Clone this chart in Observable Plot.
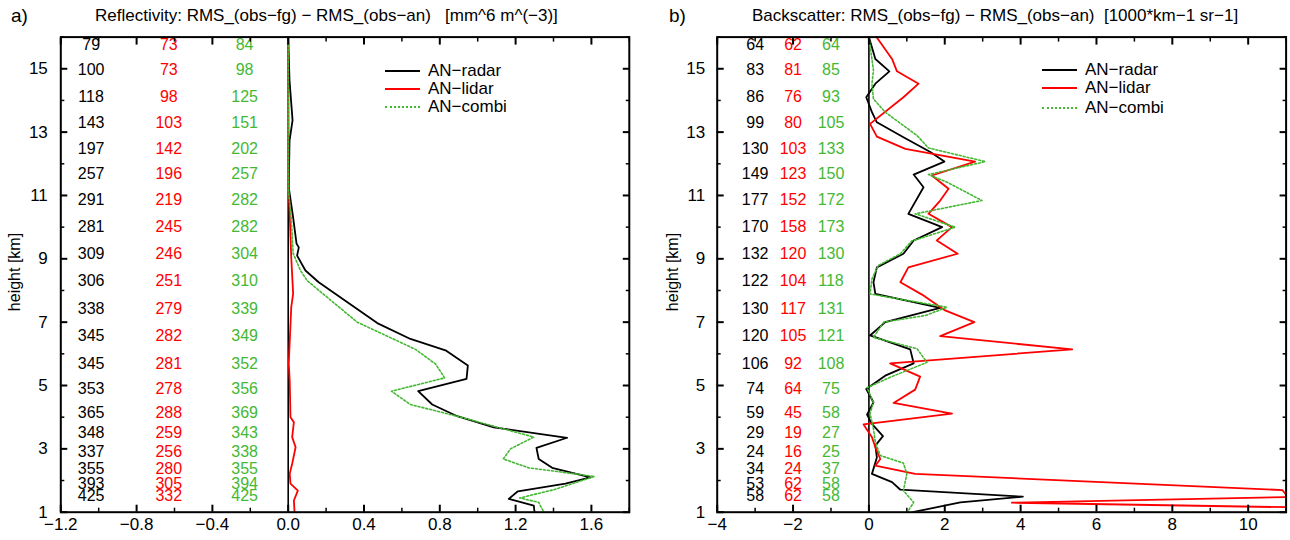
<!DOCTYPE html>
<html><head><meta charset="utf-8">
<script src="https://cdn.jsdelivr.net/npm/d3@7"></script>
<script src="https://cdn.jsdelivr.net/npm/@observablehq/plot@0.6"></script>
<style>
body{margin:0;background:#fff;}
#wrap{position:relative;width:1290px;height:540px;font-family:"Liberation Sans Narrow","Liberation Sans",Arial,sans-serif;color:#000;}
.panel{position:absolute;top:0;}
.t{position:absolute;white-space:pre;font-size:17px;line-height:1;}
.ylab{position:absolute;white-space:pre;font-size:16px;line-height:1;transform:translate(-50%,-50%) rotate(-90deg);}
.leg{position:absolute;width:35px;height:0;}
</style>
</head><body>
<div id="wrap"></div>
<script>
// ---------- data ----------
const rowHeights = [15.77,14.95,14.12,13.30,12.48,11.69,10.87,10.02,9.17,8.29,7.41,6.58,5.69,4.90,4.14,3.50,2.90,2.36,1.90,1.52];

const reflCountRadar = [79,100,118,143,197,257,291,281,309,306,338,345,345,353,365,348,337,355,393,425];
const reflCountLidar = [73,73,98,103,142,196,219,245,246,251,279,282,281,278,288,259,256,280,305,332];
const reflCountCombi = [84,98,125,151,202,257,282,282,304,310,339,349,352,356,369,343,338,355,394,425];

const bscCountRadar = [64,83,86,99,130,149,177,170,132,122,130,120,106,74,59,29,24,34,53,58];
const bscCountLidar = [62,81,76,80,103,123,152,158,120,104,117,105,92,64,45,19,16,24,62,62];
const bscCountCombi = [64,85,93,105,133,150,172,173,130,118,131,121,108,75,58,27,25,37,58,58];

// Reflectivity profiles (height km, value)
const reflRadarH = [16,14.63,13.37,12.73,11.25,10.31,9.48,9.36,9.10,8.63,8.26,6.97,6.47,6.10,5.63,5.21,4.82,4.40,4.03,3.68,3.35,3.03,2.68,2.40,2.10,1.90,1.66,1.42,1.21,1.0];
const reflRadarV = [0,0.007,0.023,0.007,0.003,0.026,0.044,0.056,0.047,0.091,0.161,0.470,0.645,0.834,0.948,0.941,0.686,0.760,0.892,1.085,1.472,1.310,1.322,1.393,1.595,1.463,1.212,1.164,1.296,1.30];
const reflLidarH = [16,11.25,9.05,7.9,7.47,5.69,5.15,4.0,3.84,3.37,3.05,2.53,2.21,1.9,1.68,1.37,1.05,1.0];
const reflLidarV = [0,0.003,0.016,0.026,0.016,0.003,0.008,0.012,0.030,0.021,0.039,0.021,0.008,0.012,0.051,0.030,0.033,0.033];
const reflCombiH = [16,11.2,10.31,9.17,8.63,8.31,7.0,6.14,5.68,5.24,4.82,4.40,4.03,3.37,3.0,2.68,2.40,2.13,1.71,1.45,1.31,1.0];
const reflCombiV = [0,0.0,0.016,0.026,0.065,0.100,0.364,0.672,0.777,0.826,0.545,0.645,0.892,1.296,1.173,1.135,1.270,1.616,1.402,1.222,1.322,1.349];

// Backscatter profiles
const bscRadarH = [16.0,15.31,14.92,14.53,14.10,13.63,13.31,12.84,12.37,12.07,11.66,11.26,10.42,10.0,9.58,9.16,8.73,8.26,7.89,7.45,7.0,6.58,6.14,5.70,5.31,4.89,4.47,4.08,3.79,3.40,3.10,2.73,2.21,1.95,1.71,1.49,1.31,1.0];
const bscRadarV = [0.0,0.17,0.54,0.17,-0.07,0.08,0.21,0.91,1.62,1.99,1.18,1.44,1.04,1.93,1.18,0.91,0.21,0.12,0.17,1.88,0.43,0.03,1.09,1.18,0.43,-0.07,0.12,-0.05,0.08,0.37,0.17,0.21,0.08,0.61,0.83,4.06,2.41,1.15];
const bscLidarH = [16.0,15.31,14.92,14.53,14.10,13.26,12.86,12.47,12.07,11.63,11.21,10.84,10.42,10.0,9.58,9.16,8.73,8.26,7.87,7.37,7.0,6.56,6.14,5.70,5.28,4.87,4.45,4.11,3.77,3.37,3.05,2.68,2.47,2.21,1.70,1.48,1.30,1.0];
const bscLidarV = [0.2,0.61,0.74,1.31,0.91,0.03,0.21,0.96,2.80,1.66,2.10,1.88,1.57,2.19,1.79,2.34,1.04,0.83,1.40,2.01,2.78,1.88,5.36,0.56,1.35,1.22,0.65,2.19,-0.14,0.08,0.17,0.30,0.17,1.22,10.9,11.05,3.77,19];
const bscCombiH = [16.0,14.95,14.53,14.05,13.63,12.89,12.50,12.07,11.66,11.42,10.84,10.42,10.0,9.56,9.16,8.79,8.37,7.89,7.47,7.21,7.0,6.52,6.16,5.73,5.26,4.93,4.47,4.11,3.63,3.21,2.79,2.55,2.21,1.68,1.31,1.05,1.0];
const bscCombiV = [0.0,0.12,0.08,0.12,0.43,1.27,1.57,3.07,1.57,2.06,2.98,1.22,2.28,1.13,0.83,0.25,0.08,0.03,2.06,1.49,0.39,0.12,1.27,1.53,0.56,-0.05,0.12,0.03,0.12,0.17,0.30,0.91,1.0,0.91,1.18,1.04,1.04];

const seriesNames = ["AN\u2212radar","AN\u2212lidar","AN\u2212combi"];
const yMajor = [1,3,5,7,9,11,13,15];
const yMinor = [2,4,6,8,10,12,14,16];
const reflXMajor = [-1.2,-0.8,-0.4,0.0,0.4,0.8,1.2,1.6];
const reflXMinor = [-1.0,-0.6,-0.2,0.2,0.6,1.0,1.4,1.8];
const bscXMajor = [-4,-2,0,2,4,6,8,10];
const bscXMinor = [-3,-1,1,3,5,7,9,11];

// ---------- style ----------
const FONT = '"Liberation Sans Narrow","Liberation Sans",Arial,sans-serif';
const BLACK = "#000000", RED = "#ff0000", GREEN = "#44b833";

function makePanel(o) {
  const lineMarks = [
    [o.radar, o.radarH, BLACK, null, 1.8],
    [o.lidar, o.lidarH, RED, null, 1.8],
    [o.combi, o.combiH, GREEN, "2,2", 1.6]
  ].map(([v, h, c, dash, sw]) => Plot.line(v, {x: d => d, y: (d, i) => h[i], stroke: c, strokeWidth: sw, strokeDasharray: dash, clip: true}));
  const colMarks = [
    [o.nRadar, BLACK, o.colX[0]],
    [o.nLidar, RED, o.colX[1]],
    [o.nCombi, GREEN, o.colX[2]]
  ].map(([n, c, cx]) => Plot.text(n, {x: () => cx, y: (d, i) => rowHeights[i], text: d => String(d), fill: c, fontSize: 16}));
  return Plot.plot({
    width: 645, height: 540,
    marginLeft: o.ml, marginRight: o.mr, marginTop: 36.6, marginBottom: 28.3,
    style: {fontFamily: FONT, fontSize: "17px", background: "transparent", overflow: "visible"},
    x: {domain: o.xDomain},
    y: {domain: [1, 16]},
    marks: [
      Plot.ruleX([0], {stroke: BLACK, strokeWidth: 1.6}),
      ...lineMarks,
      ...colMarks,
      Plot.axisX({ticks: o.xMajor, anchor: "bottom", tickSize: -7, strokeWidth: 2, tickFormat: () => ""}),
      Plot.axisX({ticks: o.xMinor, anchor: "bottom", tickSize: -4, strokeWidth: 1.5, tickFormat: () => ""}),
      Plot.axisX({ticks: o.xMajor, anchor: "top", tickSize: -7, strokeWidth: 2, tickFormat: () => ""}),
      Plot.axisX({ticks: o.xMinor, anchor: "top", tickSize: -4, strokeWidth: 1.5, tickFormat: () => ""}),
      Plot.axisX({ticks: o.xMajor, anchor: "bottom", tickSize: 0, tickPadding: 6, tickFormat: o.xFormat, label: null, fontSize: 17}),
      Plot.axisY({ticks: yMajor, anchor: "left", tickSize: -7, strokeWidth: 2, tickFormat: () => ""}),
      Plot.axisY({ticks: yMinor, anchor: "left", tickSize: -4, strokeWidth: 1.5, tickFormat: () => ""}),
      Plot.axisY({ticks: yMajor, anchor: "right", tickSize: -7, strokeWidth: 2, tickFormat: () => ""}),
      Plot.axisY({ticks: yMinor, anchor: "right", tickSize: -4, strokeWidth: 1.5, tickFormat: () => ""}),
      Plot.axisY({ticks: yMajor, anchor: "left", tickSize: 0, tickPadding: o.yPad, tickFormat: d => String(d), label: null, fontSize: 17}),
      Plot.frame({stroke: BLACK, strokeWidth: 2})
    ]
  });
}

const fmt1 = d3.format(".1f");
const wrap = document.getElementById("wrap");

const p1 = makePanel({
  xDomain: [-1.2, 1.8], xMajor: reflXMajor, xMinor: reflXMinor, xFormat: d => fmt1(d),
  ml: 60.3, mr: 16.2, yPad: 13,
  radar: reflRadarV, radarH: reflRadarH, lidar: reflLidarV, lidarH: reflLidarH, combi: reflCombiV, combiH: reflCombiH,
  nRadar: reflCountRadar, nLidar: reflCountLidar, nCombi: reflCountCombi, colX: [-1.04, -0.63, -0.23]
});
const p2 = makePanel({
  xDomain: [-4, 11], xMajor: bscXMajor, xMinor: bscXMinor, xFormat: d => d3.format("d")(d),
  ml: 71.7, mr: 4.4, yPad: 12,
  radar: bscRadarV, radarH: bscRadarH, lidar: bscLidarV, lidarH: bscLidarH, combi: bscCombiV, combiH: bscCombiH,
  nRadar: bscCountRadar, nLidar: bscCountLidar, nCombi: bscCountCombi, colX: [-3, -2, -1]
});

function place(el, left) {
  const d = document.createElement("div");
  d.className = "panel"; d.style.left = left + "px";
  d.appendChild(el); wrap.appendChild(d);
}
place(p1, 0); place(p2, 645);

function addText(cls, txt, left, top, extra) {
  const d = document.createElement("div");
  d.className = cls; d.textContent = txt;
  d.style.left = left + "px"; d.style.top = top + "px";
  if (extra) Object.assign(d.style, extra);
  wrap.appendChild(d);
}
addText("t", "a)", 11, 6, {fontSize: "19px"});
addText("t", "Reflectivity: RMS_(obs\u2212fg) \u2212 RMS_(obs\u2212an)   [mm^6 m^(\u22123)]", 95, 7);
addText("t", "b)", 669, 6, {fontSize: "19px"});
addText("t", "Backscatter: RMS_(obs\u2212fg) \u2212 RMS_(obs\u2212an)  [1000*km\u22121 sr\u22121]", 752, 7);
addText("ylab", "height [km]", 15, 272);
addText("ylab", "height [km]", 673, 272);

const legStyles = [
  {borderTop: "2px solid " + BLACK},
  {borderTop: "2px solid " + RED},
  {borderTop: "2px dotted " + GREEN}
];
function legend(lineX, textX, ys) {
  seriesNames.forEach((name, i) => {
    const l = document.createElement("div");
    l.className = "leg";
    l.style.left = lineX + "px"; l.style.top = (ys[i] - 1) + "px";
    Object.assign(l.style, legStyles[i]);
    wrap.appendChild(l);
    addText("t", name, textX, ys[i] - 9);
  });
}
legend(385, 428, [70.5, 88.5, 107]);
legend(1042, 1085, [70, 88.3, 107.5]);
</script>
</body></html>
